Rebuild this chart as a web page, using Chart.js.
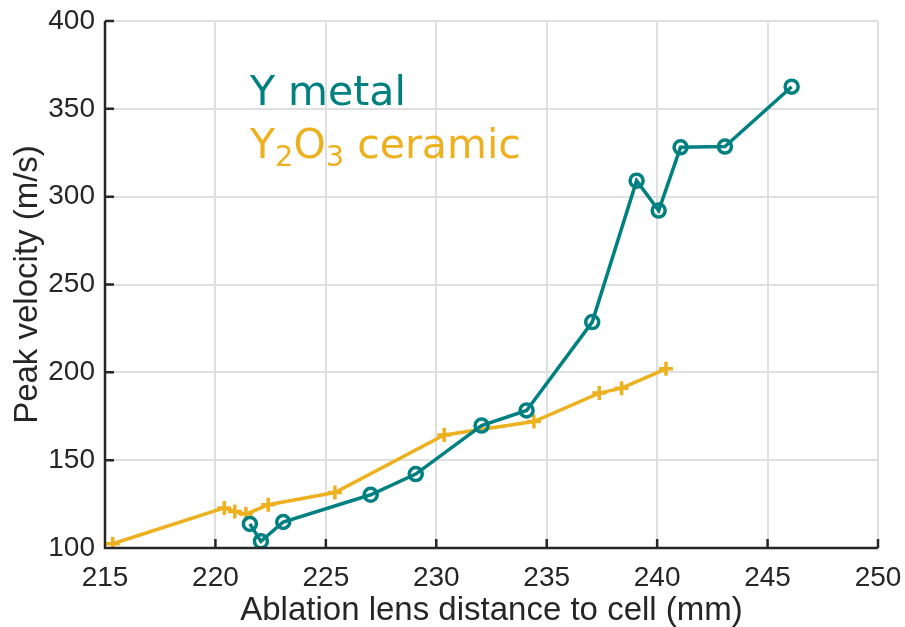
<!DOCTYPE html>
<html>
<head>
<meta charset="utf-8">
<script src="https://cdn.jsdelivr.net/npm/chart.js@4/dist/chart.umd.min.js"></script>
<style>
  html, body { margin: 0; padding: 0; background: #fff; }
  #wrap { width: 905px; height: 627px; }
</style>
</head>
<body>
<div id="wrap"><canvas id="velocity"></canvas></div>
<script>
// lens distance (mm) and peak velocity (m/s)
const metalDist = [221.56, 222.06, 223.07, 227.03, 229.07, 232.05, 234.09, 237.06, 239.07, 240.07, 241.06, 243.07, 246.09];
const metalVel  = [113.7, 103.8, 114.8, 130.3, 142.1, 169.7, 178.3, 228.6, 309.1, 292.1, 328.1, 328.5, 362.6];

const ceramicDist = [215.35, 220.40, 220.88, 221.38, 222.39, 225.41, 230.36, 234.42, 237.38, 238.39, 240.40];
const ceramicVel  = [102.4, 122.8, 120.8, 119.3, 124.6, 131.6, 164.3, 172.0, 188.2, 191.0, 202.0];

const xTicks = [215, 220, 225, 230, 235, 240, 245, 250];
const yTicks = [100, 150, 200, 250, 300, 350, 400];

const teal = '#008080';
const gold = '#EDB120';
const ink = '#262626';
const sans = '"Liberation Sans", Arial, sans-serif';

function pairs(xs, ys) {
    return xs.map((x, i) => ({ x: x, y: ys[i] }));
}

// black left/bottom axis with short inward tick marks
const boxAxes = {
    id: 'boxAxes',
    afterDatasetsDraw(chart) {
        const ctx = chart.ctx;
        const a = chart.chartArea;
        const xs = chart.scales.x, ys = chart.scales.y;
        ctx.save();
        ctx.strokeStyle = ink;
        ctx.lineWidth = 2.5;
        ctx.beginPath();
        ctx.moveTo(a.left, a.top);
        ctx.lineTo(a.left, a.bottom);
        ctx.lineTo(a.right, a.bottom);
        xTicks.forEach(v => {
            const px = xs.getPixelForValue(v);
            ctx.moveTo(px, a.bottom);
            ctx.lineTo(px, a.bottom - 9);
        });
        yTicks.forEach(v => {
            const py = ys.getPixelForValue(v);
            ctx.moveTo(a.left, py);
            ctx.lineTo(a.left + 9, py);
        });
        ctx.stroke();
        ctx.restore();
    }
};

// series names written inside the plot, with subscripts for Y2O3
const seriesNames = {
    id: 'seriesNames',
    afterDraw(chart) {
        const ctx = chart.ctx;
        const a = chart.chartArea;
        const x0 = a.left + 145;
        ctx.save();
        ctx.textBaseline = 'alphabetic';
        ctx.textAlign = 'left';
        const big = '41px "DejaVu Sans"';
        const small = '29px "DejaVu Sans"';

        ctx.fillStyle = teal;
        ctx.font = big;
        ctx.fillText('Y metal', x0, a.top + 84);

        ctx.fillStyle = gold;
        let x = x0;
        const base = a.top + 137;
        const parts = [['Y', big, 0], ['2', small, 8], ['O', big, 0], ['3', small, 8], [' ceramic', big, 0]];
        parts.forEach(p => {
            ctx.font = p[1];
            ctx.fillText(p[0], x, base + p[2]);
            x += ctx.measureText(p[0]).width;
        });
        ctx.restore();
    }
};

new Chart(document.getElementById('velocity'), {
    type: 'line',
    data: {
        datasets: [
            {
                label: 'Y metal',
                data: pairs(metalDist, metalVel),
                borderColor: teal,
                backgroundColor: 'rgba(0,0,0,0)',
                borderWidth: 3.5,
                pointStyle: 'circle',
                pointRadius: 6.5,
                pointBorderWidth: 3.5,
                pointBorderColor: teal,
                pointBackgroundColor: 'rgba(0,0,0,0)',
                tension: 0
            },
            {
                label: 'Y2O3 ceramic',
                data: pairs(ceramicDist, ceramicVel),
                borderColor: gold,
                backgroundColor: gold,
                borderWidth: 3.5,
                pointStyle: 'cross',
                pointRadius: 7,
                pointBorderWidth: 3.5,
                pointBorderColor: gold,
                tension: 0
            }
        ]
    },
    options: {
        responsive: true,
        maintainAspectRatio: false,
        animation: false,
        layout: { padding: { top: 21, right: 27, left: 0, bottom: 0 } },
        plugins: {
            legend: { display: false },
            tooltip: { enabled: false }
        },
        scales: {
            x: {
                type: 'linear',
                min: 215,
                max: 250,
                afterBuildTicks: s => { s.ticks = xTicks.map(v => ({ value: v })); },
                afterFit: s => { s.height = 79; s.paddingLeft = 0; s.paddingRight = 0; },
                grid: { color: '#dfdfdf', lineWidth: 2, drawTicks: false },
                border: { display: false },
                ticks: {
                    color: ink,
                    padding: 13,
                    font: { family: sans, size: 28 }
                },
                title: {
                    display: true,
                    text: 'Ablation lens distance to cell (mm)',
                    color: ink,
                    padding: { top: 0, bottom: -4 },
                    font: { family: sans, size: 33 }
                }
            },
            y: {
                type: 'linear',
                min: 100,
                max: 400,
                afterBuildTicks: s => { s.ticks = yTicks.map(v => ({ value: v })); },
                afterFit: s => { s.width = 105; s.paddingTop = 0; s.paddingBottom = 0; },
                grid: { color: '#dfdfdf', lineWidth: 2, drawTicks: false },
                border: { display: false },
                ticks: {
                    color: ink,
                    padding: 10,
                    font: { family: sans, size: 28 }
                },
                title: {
                    display: true,
                    text: 'Peak velocity (m/s)',
                    color: ink,
                    padding: { top: 8, bottom: 0 },
                    font: { family: sans, size: 33 }
                }
            }
        }
    },
    plugins: [boxAxes, seriesNames]
});
</script>
</body>
</html>
